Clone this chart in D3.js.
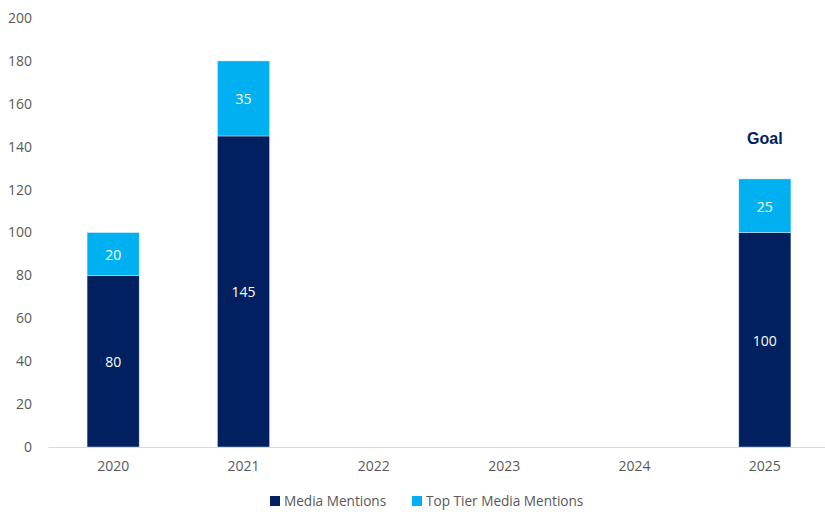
<!DOCTYPE html>
<html>
<head>
<meta charset="utf-8">
<script src="https://cdn.jsdelivr.net/npm/d3@7"></script>
<style>
  html, body { margin: 0; padding: 0; background: #fff; }
  svg text { font-family: "Open Sans", "Noto Sans", sans-serif; }
</style>
</head>
<body>
<svg id="chart" width="825" height="512"></svg>
<script>
// Media mentions by year, stacked: base mentions + top tier mentions
const years = ["2020", "2021", "2022", "2023", "2024", "2025"];
const mediaMentions = [80, 145, null, null, null, 100];
const topTierMentions = [20, 35, null, null, null, 25];
const yTicks = [0, 20, 40, 60, 80, 100, 120, 140, 160, 180, 200];
const seriesNames = ["Media Mentions", "Top Tier Media Mentions"];
const goalLabel = "Goal";
const goalYear = "2025";

const colors = ["#002060", "#00b0f0"];

const svg = d3.select("#chart");
const x = d3.scaleBand().domain(years).range([48, 830]).paddingInner(0.6).paddingOuter(0.3);
const y = d3.scaleLinear().domain([0, 200]).range([447, 18]);

// y axis labels (no axis line)
const yAxis = svg.append("g").attr("transform", "translate(40,0)")
  .call(d3.axisLeft(y).tickValues(yTicks).tickSize(0).tickPadding(8));
yAxis.select(".domain").remove();
yAxis.selectAll("text").attr("fill", "#595959").style("font-size", "14px");

// stacked bars
const rows = years.map((yr, i) => ({ year: yr, base: mediaMentions[i], top: topTierMentions[i] }))
  .filter(d => d.base != null);

const g = svg.append("g");
rows.forEach(d => {
  const segs = [
    { v0: 0, v1: d.base, val: d.base, c: colors[0] },
    { v0: d.base, v1: d.base + d.top, val: d.top, c: colors[1] }
  ];
  segs.forEach(s => {
    g.append("rect")
      .attr("x", x(d.year))
      .attr("width", x.bandwidth())
      .attr("y", y(s.v1))
      .attr("height", y(s.v0) - y(s.v1))
      .attr("fill", s.c)
      .attr("stroke", "#ffffff").attr("stroke-opacity", 0.5).attr("stroke-width", 0.75);
    g.append("text")
      .attr("x", x(d.year) + x.bandwidth() / 2)
      .attr("y", (y(s.v0) + y(s.v1)) / 2 + 1)
      .attr("dy", "0.35em")
      .attr("text-anchor", "middle")
      .attr("fill", "#ffffff")
      .style("font-size", "14px")
      .text(s.val);
  });
});

// x axis baseline and labels
const xAxis = svg.append("g").attr("transform", "translate(0,447)")
  .call(d3.axisBottom(x).tickSize(0).tickPadding(14));
xAxis.select(".domain").attr("stroke", "#d9d9d9").attr("stroke-width", 1);
xAxis.selectAll("text").attr("fill", "#595959").style("font-size", "14px");

// goal annotation above the 2025 bar
const gi = years.indexOf(goalYear);
svg.append("text")
  .attr("x", x(goalYear) + x.bandwidth() / 2)
  .attr("y", y(mediaMentions[gi] + topTierMentions[gi]) - 35)
  .attr("text-anchor", "middle")
  .attr("fill", "#002060")
  .style("font-family", "'Liberation Sans', Arial, sans-serif")
  .style("font-weight", "bold")
  .style("font-size", "16px")
  .text(goalLabel);

// legend
const legend = svg.append("g");
const legendPos = [270, 412];
seriesNames.forEach((name, i) => {
  legend.append("rect").attr("x", legendPos[i]).attr("y", 496).attr("width", 10).attr("height", 10).attr("fill", colors[i]);
  legend.append("text").attr("x", legendPos[i] + 14).attr("y", 501).attr("dy", "0.35em")
    .attr("fill", "#595959").style("font-size", "13.6px").text(name);
});
</script>
</body>
</html>
